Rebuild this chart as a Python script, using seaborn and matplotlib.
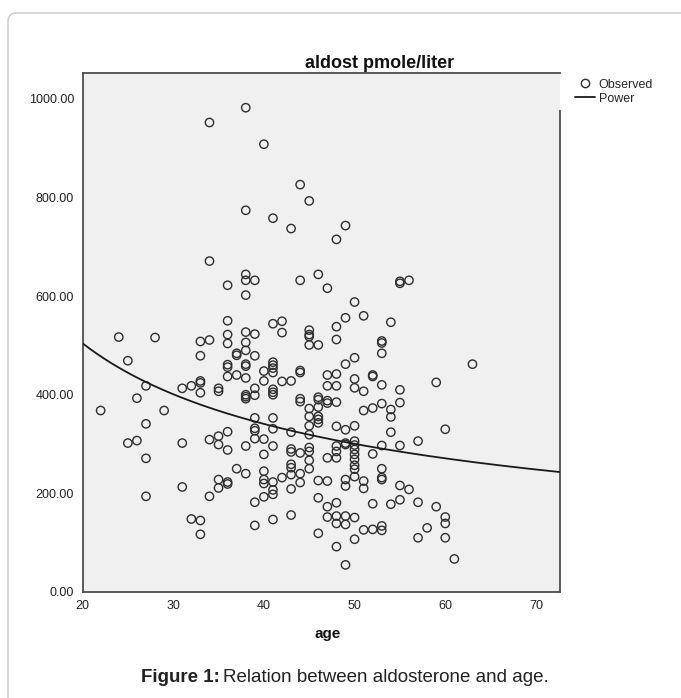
import numpy as np
import matplotlib
matplotlib.use('Agg')
import matplotlib.pyplot as plt
import seaborn as sns
from matplotlib.lines import Line2D
from matplotlib.patches import FancyBboxPatch

# Observed points (age in years, aldosterone pmole/liter)
age = ([22] + [24] + [25] * 2 + [26] * 2 + [27] * 4 + [28] + [29] + [31] * 3 + [32] * 2
       + [33] * 7 + [34] * 5 + [35] * 6 + [36] * 11 + [37] * 4 + [38] * 16 + [39] * 11
       + [40] * 9 + [41] * 16 + [42] * 4 + [43] * 10 + [44] * 9 + [45] * 13 + [46] * 11
       + [47] * 9 + [48] * 14 + [49] * 11 + [50] * 15 + [51] * 6 + [52] * 6 + [53] * 11
       + [54] * 5 + [55] * 7 + [56] * 2 + [57] * 3 + [58] + [59] * 2 + [60] * 4 + [61] + [63])

aldost = [
    368,                                        # 22
    517,                                        # 24
    469, 302,                                   # 25
    393, 307,                                   # 26
    418, 341, 271, 194,                         # 27
    516,                                        # 28
    368,                                        # 29
    413, 302, 213,                              # 31
    418, 148,                                   # 32
    508, 479, 428, 424, 404, 145, 117,          # 33
    952, 671, 511, 309, 194,                    # 34
    413, 407, 316, 299, 228, 211,               # 35
    622, 550, 522, 504, 461, 456, 437, 325, 288, 223, 219,   # 36
    484, 480, 440, 250,                         # 37
    982, 774, 644, 632, 602, 527, 506, 490, 462, 458, 434, 400, 396, 392, 296, 240,  # 38
    632, 523, 479, 413, 399, 353, 332, 327, 311, 182, 135,   # 39
    908, 448, 428, 310, 279, 245, 228, 220, 193,             # 40
    758, 544, 466, 460, 454, 445, 411, 405, 400, 353, 331, 296, 223, 207, 198, 147,  # 41
    549, 526, 427, 232,                         # 42
    737, 428, 324, 290, 284, 259, 252, 238, 209, 156,        # 43
    826, 632, 449, 445, 392, 386, 282, 240, 222,             # 44
    793, 531, 522, 518, 501, 372, 356, 337, 319, 293, 285, 267, 250,  # 45
    644, 501, 395, 390, 375, 356, 350, 343, 226, 191, 119,   # 46
    616, 440, 418, 388, 383, 272, 225, 173, 152,             # 47
    715, 538, 512, 442, 418, 385, 336, 296, 285, 272, 181, 154, 139, 92,  # 48
    743, 556, 462, 329, 302, 299, 228, 215, 154, 137, 55,    # 49
    588, 475, 432, 414, 337, 306, 298, 289, 279, 269, 257, 249, 234, 151, 107,  # 50
    560, 407, 368, 225, 210, 126,               # 51
    440, 437, 373, 280, 179, 127,               # 52
    509, 505, 484, 420, 382, 297, 250, 232, 228, 134, 125,   # 53
    547, 370, 355, 324, 178,                    # 54
    630, 626, 410, 384, 297, 216, 187,          # 55
    632, 208,                                   # 56
    306, 182, 110,                              # 57
    130,                                        # 58
    425, 173,                                   # 59
    330, 152, 139, 110,                         # 60
    67,                                         # 61
    462,                                        # 63
]

x_ticks = [20, 30, 40, 50, 60, 70]
y_ticks = [0, 200, 400, 600, 800, 1000]

sns.set_style('white')
plt.rcParams['font.family'] = ['Liberation Sans', 'DejaVu Sans']

W, H = 681, 698
fig = plt.figure(figsize=(W / 100, H / 100), dpi=100)
ax = fig.add_axes([82.5 / W, 1 - 592 / H, 477.5 / W, 519.3 / H])
ax.set_facecolor('#f0f0f0')

# Observed
sns.scatterplot(x=age, y=aldost, ax=ax, marker='o', s=36,
                facecolor='none', edgecolor='#2e2e2e', linewidth=1.0, zorder=3)

# Power curve fitted on the observed data: ln(y) = ln(a) + b*ln(x)
b, ln_a = np.polyfit(np.log(age), np.log(aldost), 1)
xs = np.linspace(20, 72.65, 200)
sns.lineplot(x=xs, y=np.exp(ln_a) * xs ** b, ax=ax, color='#1a1a1a', linewidth=1.3, zorder=4)

ax.set_xlim(20, 72.65)
ax.set_ylim(0, 1053)
ax.set_xticks(x_ticks)
ax.set_yticks(y_ticks)
ax.set_yticklabels([f'{v:.2f}' for v in y_ticks])
ax.set_xlabel('')
ax.set_ylabel('')
ax.tick_params(direction='out', length=5, width=1.2, color='#444444',
               labelsize=9, labelcolor='#222222', pad=1)
for sp in ax.spines.values():
    sp.set_visible(True)
    sp.set_color('#4d4d4d')
    sp.set_linewidth(1.3)
ax.spines['right'].set_bounds(0, 976)

fig.text(380 / W, 1 - 64 / H, 'aldost pmole/liter', ha='center', va='center',
         fontsize=13, fontweight='bold', color='#111111')
fig.text(328 / W, 1 - 634 / H, 'age', ha='center', va='center',
         fontsize=11, fontweight='bold', color='#111111')

handles = [Line2D([], [], marker='o', linestyle='none', markerfacecolor='none',
                  markeredgecolor='#2e2e2e', markersize=6, markeredgewidth=1.0),
           Line2D([], [], color='#1a1a1a', linewidth=1.3)]
leg = fig.legend(handles, ['Observed', 'Power'], loc='upper left',
                 bbox_to_anchor=(566 / W, 1 - 70 / H), frameon=False,
                 fontsize=9, handlelength=1.6, handletextpad=0.3,
                 labelspacing=0.15, borderpad=0.2)

# outer rounded frame
frame = FancyBboxPatch((8 / W, -0.1), 1.2, 1.1 - 13 / H,
                       boxstyle='round,pad=0,rounding_size=0.012',
                       transform=fig.transFigure, fill=False,
                       edgecolor='#c8c8c8', linewidth=1.0)
fig.add_artist(frame)

# caption with bold lead-in
cap1 = fig.text(141 / W, 1 - 678 / H, 'Figure 1:', ha='left', va='center',
                fontsize=13.5, fontweight='bold', color='#222222')
fig.canvas.draw()
bb = cap1.get_window_extent(renderer=fig.canvas.get_renderer())
fig.text((bb.x1 + 3) / W, 1 - 678 / H, 'Relation between aldosterone and age.',
         ha='left', va='center', fontsize=13.5, color='#222222')

fig.savefig('out.png', dpi=100)
